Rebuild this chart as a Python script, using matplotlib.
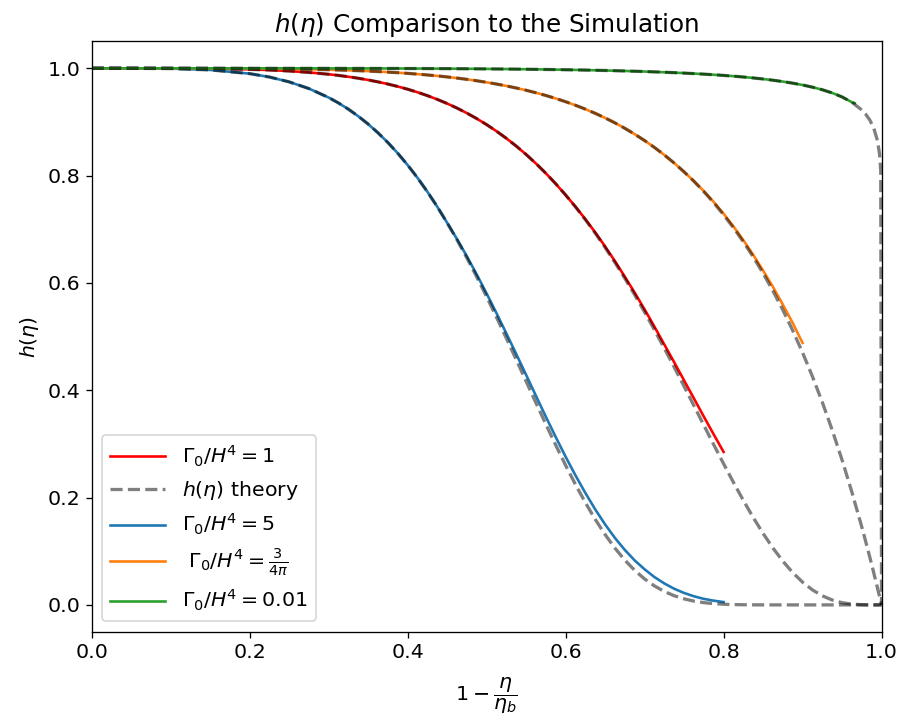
import numpy as np
import matplotlib
matplotlib.use('Agg')
import matplotlib.pyplot as plt

plt.rcParams['font.size'] = 12.5

# eixo x: 1 - eta/eta_b
x_theory = [0.0, 0.05, 0.1, 0.15, 0.2, 0.225, 0.25, 0.275, 0.3,
            0.3125, 0.325, 0.3375, 0.35, 0.3625, 0.375, 0.3875, 0.4, 0.4125, 0.425,
            0.4375, 0.45, 0.4625, 0.475, 0.4875, 0.5, 0.5125, 0.525, 0.5375, 0.55,
            0.5625, 0.575, 0.5875, 0.6, 0.6125, 0.625, 0.6375, 0.65, 0.6625, 0.675,
            0.6875, 0.7, 0.7125, 0.725, 0.7375, 0.75, 0.7625, 0.775, 0.7875, 0.8,
            0.8125, 0.825, 0.8375, 0.85, 0.8625, 0.875, 0.8875, 0.9, 0.9125, 0.925,
            0.9375, 0.95, 0.9625, 0.975, 0.98, 0.985, 0.99, 0.995, 0.9975, 0.999, 1.0]

# curvas teoricas h(eta) (tracejadas)
h_theory_1 = [1.0, 0.99999, 0.99989, 0.99940, 0.99800, 0.99673, 0.99489, 0.99233, 0.98886,
              0.98672, 0.98426, 0.98146, 0.97828, 0.97469, 0.97064, 0.96610, 0.96102, 0.95535, 0.94905,
              0.94207, 0.93435, 0.92584, 0.91649, 0.90623, 0.89501, 0.88278, 0.86946, 0.85502, 0.83938,
              0.82250, 0.80433, 0.78481, 0.76391, 0.74160, 0.71784, 0.69266, 0.66600, 0.63794, 0.60846,
              0.57767, 0.54561, 0.51238, 0.47816, 0.44306, 0.40733, 0.37116, 0.33487, 0.29873, 0.26309,
              0.22833, 0.19484, 0.16300, 0.13325, 0.10599, 0.08157, 0.06030, 0.04239, 0.02795, 0.01693,
              0.00914, 0.00416, 0.00145, 0.00031, 0.00013, 0.00004, 0.0, 0.0, 0.0, 0.0, 0.0]
h_theory_5 = [1.0, 0.99997, 0.99943, 0.99699, 0.99006, 0.98374, 0.97469, 0.96222, 0.94552,
              0.93532, 0.92374, 0.91068, 0.89604, 0.87970, 0.86159, 0.84162, 0.81971, 0.79582, 0.76992,
              0.74200, 0.71209, 0.68025, 0.64658, 0.61120, 0.57430, 0.53610, 0.49689, 0.45696, 0.41668,
              0.37643, 0.33664, 0.29773, 0.26015, 0.22431, 0.19063, 0.15944, 0.13105, 0.10566, 0.08341,
              0.06433, 0.04835, 0.03532, 0.02499, 0.01707, 0.01121, 0.00704, 0.00421, 0.00238, 0.00126,
              0.00062, 0.00028, 0.00012, 0.00004, 0.0, 0.0, 0.0, 0.0, 0.0, 0.0,
              0.0, 0.0, 0.0, 0.0, 0.0, 0.0, 0.0, 0.0, 0.0, 0.0, 0.0]
h_theory_34pi = [1.0, 1.0, 0.99997, 0.99986, 0.99952, 0.99922, 0.99878, 0.99816, 0.99733,
                 0.99681, 0.99622, 0.99554, 0.99477, 0.99390, 0.99291, 0.99180, 0.99055, 0.98915, 0.98759,
                 0.98585, 0.98392, 0.98177, 0.97940, 0.97677, 0.97387, 0.97067, 0.96716, 0.96330, 0.95906,
                 0.95442, 0.94934, 0.94379, 0.93773, 0.93112, 0.92391, 0.91607, 0.90753, 0.89825, 0.88816,
                 0.87721, 0.86534, 0.85245, 0.83849, 0.82338, 0.80700, 0.78930, 0.77014, 0.74943, 0.72703,
                 0.70285, 0.67671, 0.64852, 0.61807, 0.58520, 0.54973, 0.51147, 0.47021, 0.42570, 0.37769,
                 0.32596, 0.27018, 0.21003, 0.14520, 0.11788, 0.08972, 0.06071, 0.03081, 0.01552, 0.00623, 0.0]
h_theory_001 = [1.0, 1.0, 1.0, 0.99999, 0.99998, 0.99997, 0.99995, 0.99992, 0.99989,
                0.99987, 0.99984, 0.99981, 0.99978, 0.99974, 0.99970, 0.99966, 0.99960, 0.99954, 0.99948,
                0.99940, 0.99932, 0.99923, 0.99913, 0.99902, 0.99889, 0.99875, 0.99860, 0.99843, 0.99825,
                0.99805, 0.99782, 0.99758, 0.99731, 0.99701, 0.99669, 0.99633, 0.99594, 0.99552, 0.99505,
                0.99453, 0.99396, 0.99334, 0.99265, 0.99189, 0.99106, 0.99014, 0.98912, 0.98799, 0.98674,
                0.98534, 0.98378, 0.98203, 0.98005, 0.97780, 0.97525, 0.97231, 0.96889, 0.96486, 0.96004,
                0.95413, 0.94666, 0.93673, 0.92235, 0.91433, 0.90394, 0.88927, 0.86436, 0.83989, 0.80842, 0.0]

# resultados da simulacao (linhas solidas), mesmos pontos de x ate o fim de cada serie
h_sim_1 = [1.0, 0.99999, 0.99989, 0.99940, 0.99800, 0.99673, 0.99489, 0.99233, 0.98886,
           0.98672, 0.98426, 0.98146, 0.97828, 0.97469, 0.97064, 0.96610, 0.96102, 0.95535, 0.94905,
           0.94207, 0.93435, 0.92584, 0.91649, 0.90623, 0.89501, 0.88278, 0.86946, 0.85502, 0.83938,
           0.82250, 0.80433, 0.78481, 0.76391, 0.74210, 0.71884, 0.69416, 0.66800, 0.64044, 0.61146,
           0.58167, 0.55061, 0.51838, 0.48516, 0.45206, 0.41833, 0.38466, 0.35087, 0.31773, 0.28509]
h_sim_5 = [1.0, 0.99997, 0.99943, 0.99699, 0.99006, 0.98374, 0.97469, 0.96222, 0.94552,
           0.93532, 0.92374, 0.91068, 0.89604, 0.87970, 0.86159, 0.84162, 0.81971, 0.79582, 0.76992,
           0.74200, 0.71209, 0.68175, 0.64958, 0.61570, 0.58030, 0.54360, 0.50589, 0.46746, 0.42868,
           0.38943, 0.35064, 0.31273, 0.27615, 0.24131, 0.20863, 0.17794, 0.15005, 0.12466, 0.10241,
           0.08283, 0.06635, 0.05182, 0.03999, 0.03007, 0.02221, 0.01604, 0.01121, 0.00788, 0.00526]
h_sim_34pi = [1.0, 1.0, 0.99997, 0.99986, 0.99952, 0.99922, 0.99878, 0.99816, 0.99733,
              0.99681, 0.99622, 0.99554, 0.99477, 0.99390, 0.99291, 0.99180, 0.99055, 0.98915, 0.98759,
              0.98585, 0.98392, 0.98177, 0.97940, 0.97677, 0.97387, 0.97067, 0.96716, 0.96330, 0.95906,
              0.95442, 0.94934, 0.94379, 0.93773, 0.93112, 0.92391, 0.91607, 0.90753, 0.89825, 0.88816,
              0.87721, 0.86534, 0.85245, 0.83849, 0.82338, 0.80700, 0.78980, 0.77114, 0.75093, 0.72903,
              0.70535, 0.67971, 0.65252, 0.62307, 0.59270, 0.55973, 0.52547, 0.48821]
h_sim_001 = [1.0, 1.0, 1.0, 0.99999, 0.99998, 0.99997, 0.99995, 0.99992, 0.99989,
             0.99987, 0.99984, 0.99981, 0.99978, 0.99974, 0.99970, 0.99966, 0.99960, 0.99954, 0.99948,
             0.99940, 0.99932, 0.99923, 0.99913, 0.99902, 0.99889, 0.99875, 0.99860, 0.99843, 0.99825,
             0.99805, 0.99782, 0.99758, 0.99731, 0.99701, 0.99669, 0.99633, 0.99594, 0.99552, 0.99505,
             0.99453, 0.99396, 0.99334, 0.99265, 0.99189, 0.99106, 0.99014, 0.98912, 0.98799, 0.98674,
             0.98534, 0.98378, 0.98203, 0.98005, 0.97780, 0.97525, 0.97231, 0.96889, 0.96486, 0.96004,
             0.95413, 0.94666, 0.93673, 0.93480]
x_sim_001 = x_theory[:62] + [0.966]

fig = plt.figure(figsize=(901 / 118, 720 / 118), dpi=118)
ax = fig.add_axes([0.1018, 0.1226, 0.8766, 0.8198])

teo = dict(color='k', ls='--', lw=2, alpha=0.5)
lw_sim = 1.6

ax.plot(x_theory[:len(h_sim_1)], h_sim_1, color='red', lw=lw_sim, label=r'$\Gamma_0/H^4=1$')
ax.plot(x_theory, h_theory_1, label=r'$h(\eta)$ theory', **teo)
ax.plot(x_theory[:len(h_sim_5)], h_sim_5, color='tab:blue', lw=lw_sim, label=r'$\Gamma_0/H^4=5$')
ax.plot(x_theory, h_theory_5, **teo)
ax.plot(x_theory[:len(h_sim_34pi)], h_sim_34pi, color='tab:orange', lw=lw_sim,
        label=r' $\Gamma_0/H^4=\frac{3}{4\pi}$')
ax.plot(x_theory, h_theory_34pi, **teo)
ax.plot(x_sim_001, h_sim_001, color='tab:green', lw=lw_sim, label=r'$\Gamma_0/H^4=0.01$')
ax.plot(x_theory, h_theory_001, **teo)

ax.set_xlim(0, 1)
ax.set_ylim(-0.05, 1.05)
ax.set_title(r'$h(\eta)$ Comparison to the Simulation')
ax.set_xlabel(r'$1-\dfrac{\eta}{\eta_b}$', labelpad=8)
ax.set_ylabel(r'$h(\eta)$')
ax.legend(loc='lower left', handlelength=2.7)

fig.savefig('out.png', dpi=118)
